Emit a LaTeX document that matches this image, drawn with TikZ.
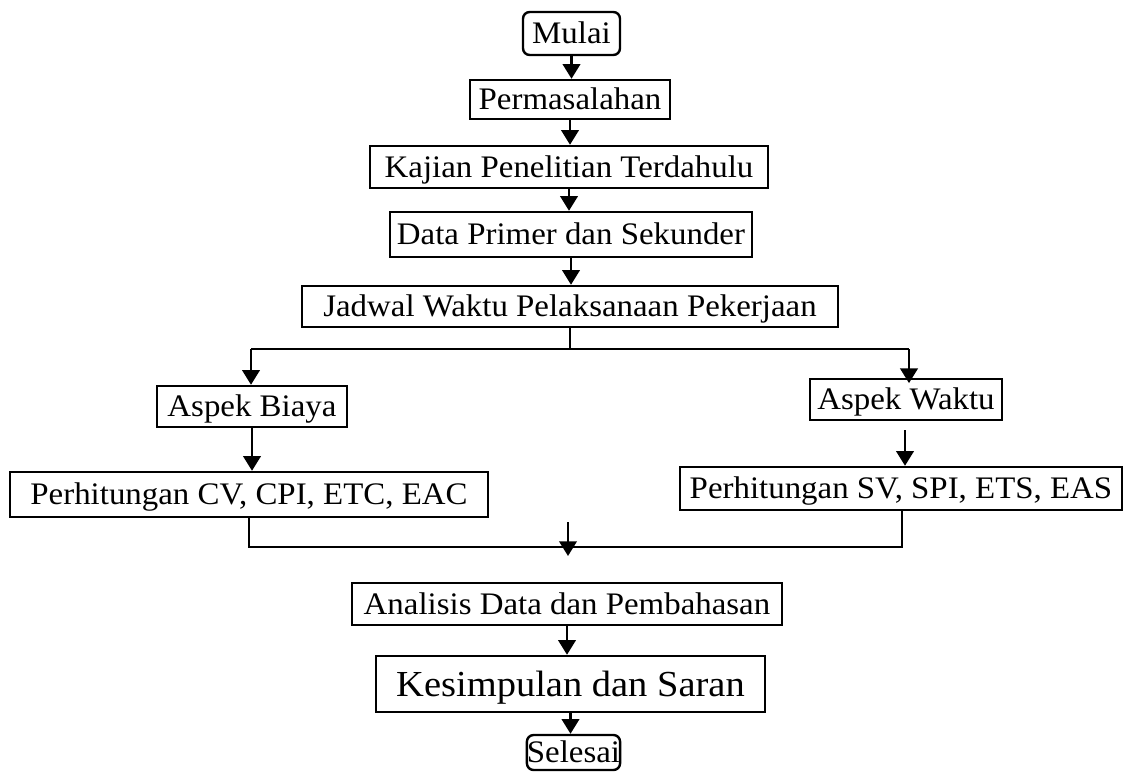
\documentclass[tikz,border=0pt]{standalone}
\usepackage{fontspec}
\setmainfont[FakeStretch=1.05]{Liberation Serif}
\usetikzlibrary{arrows.meta,calc}
\begin{document}
\begin{tikzpicture}[x=0.75pt,y=-0.75pt,
  box/.style={draw, line width=1.8pt, inner sep=0pt, align=center,
    text height=20.6pt, text depth=5pt,
    font=\fontsize{23.5}{27}\selectfont},
  term/.style={box, rounded corners=5pt},
  conn/.style={line width=2pt},
  arr/.style={conn, -{Triangle[width=13pt,length=11pt]}}]
\useasboundingbox (0,0) rectangle (1124,774);
% nodes
\node[term, minimum width=72.75pt, minimum height=32.25pt] (mulai) at (571.5,33.5) {Mulai};
\node[box, minimum width=150pt, minimum height=29.25pt] (perm) at (570,99.5) {Permasalahan};
\node[box, minimum width=298.5pt, minimum height=31.5pt] (kajian) at (569,167) {Kajian Penelitian Terdahulu};
\node[box, minimum width=271.5pt, minimum height=33.75pt] (data) at (571,234.5) {Data Primer dan Sekunder};
\node[box, minimum width=402pt, minimum height=30.75pt] (jadwal) at (570,306.5) {Jadwal Waktu Pelaksanaan Pekerjaan};
\node[box, minimum width=142.5pt, minimum height=30.75pt] (biaya) at (252,406.5) {Aspek Biaya};
\node[box, minimum width=358.5pt, minimum height=33.75pt] (cv) at (249,494.5) {Perhitungan CV, CPI, ETC, EAC};
\node[box, minimum width=144pt, minimum height=30.75pt] (waktu) at (906,399.5) {Aspek Waktu};
\node[box, minimum width=331.5pt, minimum height=32.25pt] (sv) at (901,488.5) {Perhitungan SV, SPI, ETS, EAS};
\node[box, minimum width=322.5pt, minimum height=31.5pt] (analisis) at (567,604) {Analisis Data dan Pembahasan};
\node[box, minimum width=291.75pt, minimum height=42pt, text height=23.2pt, text depth=5pt, font=\fontsize{27.5}{31}\selectfont] (kesimpulan) at (570.5,684) {Kesimpulan dan Saran};
\node[term, minimum width=65.25pt, minimum height=26.25pt] (selesai) at (573.5,752.5) {Selesai};
% coordinates
\coordinate (split) at (570,349);
\coordinate (splitL) at (251,349);
\coordinate (splitR) at (909,349);
\coordinate (mergeL) at (249,547);
\coordinate (mergeR) at (902,547);
\coordinate (mTop) at (568,522);
\coordinate (mBot) at (568,556);
\coordinate (wTop) at (905,430);
% connectors
\draw[arr] (mulai.south) -- (mulai.south |- perm.north);
\draw[arr] (perm.south) -- (perm.south |- kajian.north);
\draw[arr] (kajian.south) -- (kajian.south |- data.north);
\draw[arr] (data.south) -- (data.south |- jadwal.north);
\draw[conn] (jadwal.south) -- (split);
\draw[conn] (splitL) -- (splitR);
\draw[arr] (splitL) -- (splitL |- biaya.north);
\draw[arr] (splitR) -- ([yshift=-4pt]splitR |- waktu.north);
\draw[arr] (biaya.south) -- (biaya.south |- cv.north);
\draw[arr] (wTop) -- (wTop |- sv.north);
\draw[conn] (cv.south) -- (mergeL) -- (mergeR) -- (mergeR |- sv.south);
\draw[arr] (mTop) -- (mBot);
\draw[arr] (analisis.south) -- (analisis.south |- kesimpulan.north);
\draw[arr] (kesimpulan.south) -- (kesimpulan.south |- selesai.north);
\end{tikzpicture}
\end{document}
